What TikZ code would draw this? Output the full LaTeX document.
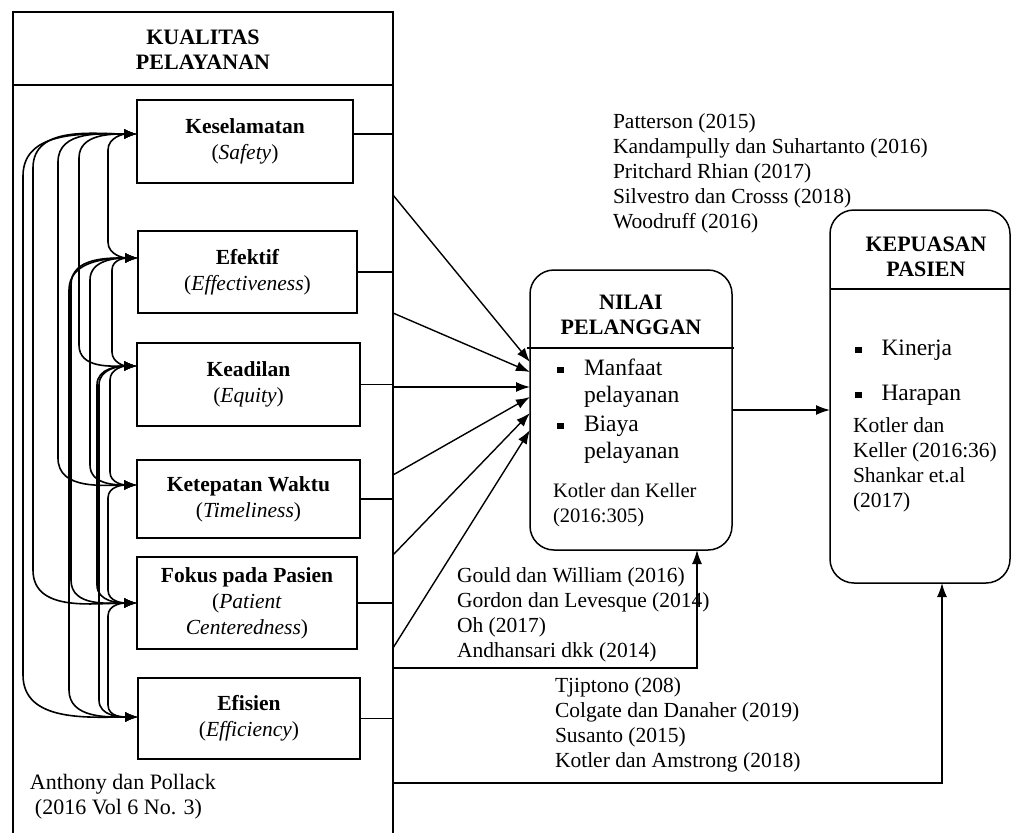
\documentclass[tikz,border=0pt]{standalone}
\usepackage{fontspec}
\setmainfont{Liberation Serif}
\usetikzlibrary{arrows.meta}
\begin{document}
\begin{tikzpicture}[x=1pt,y=-1pt,
  every node/.style={inner sep=0pt, outer sep=0pt},
  box/.style={draw, line width=2.6pt, align=center, font=\fontsize{21.5}{26}\selectfont},
  rbox/.style={draw, line width=1.5pt, rounded corners=24pt},
  ttl/.style={align=center, font=\bfseries\fontsize{22}{25}\selectfont},
  ref/.style={anchor=north west, align=left, font=\fontsize{21.5}{25}\selectfont},
  net/.style={line width=1.6pt, {Latex[length=13pt,width=10pt]}-{Latex[length=13pt,width=10pt]}},
  conn/.style={line width=1.4pt, -{Latex[length=14pt,width=10pt]}},
  plain/.style={line width=1.2pt}]
\useasboundingbox (0,0) rectangle (1013,833);
\fill[white] (0,0) rectangle (1013,833);

% ---------- KUALITAS PELAYANAN ----------
\node[draw, line width=2.2pt, minimum width=380pt, minimum height=840pt, anchor=north west] (kq) at (13,12) {};
\node[ttl] (kqt) at (203,49.5) {KUALITAS\\PELAYANAN};
\draw[plain] (13,85) -- (393,85);

\node[box, minimum width=216pt, minimum height=83pt] (k1) at (245,141.5) {\textbf{Keselamatan}\\(\textit{Safety})};
\node[box, minimum width=219pt, minimum height=82pt] (k2) at (247.5,272) {\textbf{Efektif}\\(\textit{Effectiveness})};
\node[box, minimum width=223pt, minimum height=83pt] (k3) at (248.5,384.5) {\textbf{Keadilan}\\(\textit{Equity})};
\node[box, minimum width=223pt, minimum height=78pt] (k4) at (248.5,499) {\textbf{Ketepatan Waktu}\\(\textit{Timeliness})};
\node[box, minimum width=220pt, minimum height=92pt] (k5) at (247,603) {\textbf{Fokus pada Pasien}\\(\textit{Patient}\\\textit{Centeredness})};
\node[box, minimum width=222pt, minimum height=81pt] (k6) at (249,718.5) {\textbf{Efisien}\\(\textit{Efficiency})};

\node[ref, font=\fontsize{22}{25}\selectfont] (ap) at (30,774) {Anthony dan Pollack\\\hspace*{5pt}(2016 Vol 6 No. 3)};

% stubs to the frame
\coordinate (s1) at ([yshift=7.5pt]k1.east);
\draw[plain] (s1) -- (s1 -| kq.east);
\draw[plain] (k2.east) -- (k2.east -| kq.east);
\draw[plain] (k3.east) -- (k3.east -| kq.east);
\draw[plain] (k4.east) -- (k4.east -| kq.east);
\draw[plain] (k5.east) -- (k5.east -| kq.east);
\draw[plain] (k6.east) -- (k6.east -| kq.east);

% ---------- left network ----------
\coordinate (p1) at ([yshift=7.5pt]k1.west);
\coordinate (p2) at ([yshift=14pt]k2.west);
\coordinate (p3) at ([yshift=18.5pt]k3.west);
\coordinate (p4) at ([yshift=14pt]k4.west);
\coordinate (p5) at (k5.west);
\coordinate (p6) at ([yshift=1.5pt]k6.west);

\draw[net] (p1) to[out=180,in=90] (23,176) -- (23,675) to[out=-90,in=180] (p6);
\draw[net] (p1) to[out=180,in=90] (33,168) -- (33,570) to[out=-90,in=180] (p5);
\draw[net] (p1) to[out=180,in=90] (58,162) -- (58,458) to[out=-90,in=180] (p4);
\draw[net] (p1) to[out=180,in=90] (79,158) -- (79,345) to[out=-90,in=180] (p3);
\draw[net] (p1) to[out=180,in=90] (108,150) -- (108,242) to[out=-90,in=180] (p2);
\draw[net] (p2) to[out=180,in=90] (69,290) -- (69,690) to[out=-90,in=180] (p6);
\draw[net] (p2) to[out=180,in=90] (71,285) -- (71,580) to[out=-90,in=180] (p5);
\draw[net] (p2) to[out=180,in=90] (90,280) -- (90,465) to[out=-90,in=180] (p4);
\draw[net] (p3) to[out=180,in=90] (97,385) -- (97,585) to[out=-90,in=180] (p5);
\draw[net] (p3) to[out=180,in=90] (99,385) -- (99,700) to[out=-90,in=180] (p6);
\draw[net] (p2) to[out=180,in=90] (112,270) -- (112,352) to[out=-90,in=180] (p3);
\draw[net] (p3) to[out=180,in=90] (110,380) -- (110,472) to[out=-90,in=180] (p4);
\draw[net] (p4) to[out=180,in=90] (108,498) -- (108,590) to[out=-90,in=180] (p5);
\draw[net] (p5) to[out=180,in=90] (108,616) -- (108,705) to[out=-90,in=180] (p6);

% ---------- NILAI PELANGGAN ----------
\node[rbox, minimum width=202pt, minimum height=280pt] (nv) at (631,410) {};
\node[ttl] (nvt) at (631,314.5) {NILAI\\PELANGGAN};
\draw[plain] (527,348) -- (734,348);
\node[anchor=north west, font=\fontsize{23.5}{26.5}\selectfont] (nvb) at (557,357)
  {\begin{tabular}{@{}l@{\hspace{20.5pt}}l@{}}
   \rule[2.5pt]{6.5pt}{6.5pt} & Manfaat\\
   & pelayanan\\[3pt]
   \rule[2.5pt]{6.5pt}{6.5pt} & Biaya\\
   & pelayanan
   \end{tabular}};
\node[ref, font=\fontsize{20.5}{25}\selectfont] (nvr) at (553,483) {Kotler dan Keller\\(2016:305)};

% ---------- KEPUASAN PASIEN ----------
\node[rbox, minimum width=180pt, minimum height=373pt] (kp) at (920,396.5) {};
\node[ttl] (kpt) at (926,257) {KEPUASAN\\PASIEN};
\draw[plain] (830,289) -- (1010,289);
\node[anchor=north west, font=\fontsize{23.5}{26.5}\selectfont] (kpb) at (855,337)
  {\begin{tabular}{@{}l@{\hspace{20pt}}l@{}}
   \rule[2.5pt]{6.5pt}{6.5pt} & Kinerja\\[18.5pt]
   \rule[2.5pt]{6.5pt}{6.5pt} & Harapan
   \end{tabular}};
\node[ref] (kpr) at (853,418) {Kotler dan\\Keller (2016:36)\\Shankar et.al\\(2017)};

% ---------- reference lists ----------
\node[ref] (r1) at (613,114) {Patterson (2015)\\Kandampully dan Suhartanto (2016)\\Pritchard Rhian (2017)\\Silvestro dan Crosss (2018)\\Woodruff (2016)};
\node[ref] (r2) at (457,568) {Gould dan William (2016)\\Gordon dan Levesque (2014)\\Oh (2017)\\Andhansari dkk (2014)};
\node[ref] (r3) at (555,678) {Tjiptono (208)\\Colgate dan Danaher (2019)\\Susanto (2015)\\Kotler dan Amstrong (2018)};

% ---------- connectors to NILAI / KEPUASAN ----------
\coordinate (o1) at (393,195);
\coordinate (o2) at (393,313);
\coordinate (o3) at (393,387);
\coordinate (o4) at (393,475);
\coordinate (o5) at (393,555);
\coordinate (o6) at (393,648);
\coordinate (o7) at (393,668);
\coordinate (o8) at (393,783);

\draw[conn] (o1) -- ([yshift=48pt]nv.west);
\draw[conn] (o2) -- ([yshift=38pt]nv.west);
\draw[conn] (o3) -- ([yshift=23pt]nv.west);
\draw[conn] (o4) -- ([yshift=13pt]nv.west);
\draw[conn] (o5) -- ([yshift=-3pt]nv.west);
\draw[conn] (o6) -- ([yshift=-20pt]nv.west);

\draw[conn] (nv.east) -- (nv.east -| kp.west);
\draw[conn] (o7) -| ([xshift=66pt]nv.south);
\draw[conn] (o8) -| ([xshift=22pt]kp.south);
\end{tikzpicture}
\end{document}
